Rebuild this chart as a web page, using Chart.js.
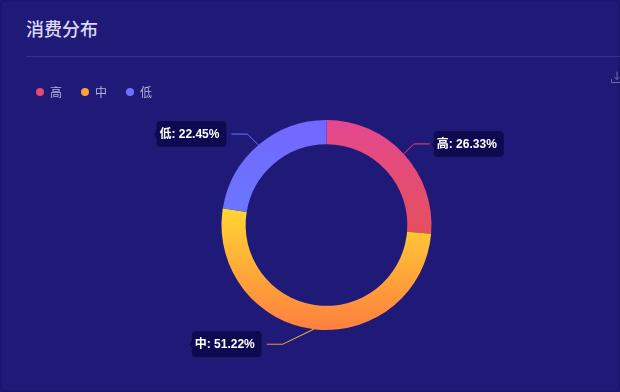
<!DOCTYPE html>
<html>
<head>
<meta charset="utf-8">
<script src="https://cdn.jsdelivr.net/npm/chart.js@4/dist/chart.umd.js"></script>
<style>
  html, body { margin: 0; padding: 0; background: #1f1978; }
  .card {
    position: relative; width: 620px; height: 392px; overflow: hidden;
    background: #1f1978; border-radius: 5px; box-shadow: inset 0 0 0 1.5px #1a156c;
    font-family: "Liberation Sans", "Noto Sans CJK SC", sans-serif;
  }
  .card h3 {
    position: absolute; left: 26px; right: 0; top: 0; height: 56px; margin: 0;
    line-height: 56px; font-size: 18px; font-weight: 500; color: #dcdaf3;
    font-family: "Noto Sans CJK SC", sans-serif;
    border-bottom: 1px solid #35307f;
  }
  .card svg { position: absolute; left: 611px; top: 71px; }
  #wrap { position: absolute; left: 0; top: 57px; width: 636px; height: 335px; }
</style>
</head>
<body>
<div class="card">
  <h3>消费分布</h3>
  <svg width="12" height="13" viewBox="0 0 12 13" fill="none" stroke="#6f6ba8" stroke-width="1">
    <path d="M.5 8v3.5h11.500M6 .5v8M3.500 6l2.500 2.500L8.500 6"/>
  </svg>
  <div id="wrap"><canvas id="chart" width="636" height="335"></canvas></div>
</div>
<script>
// Data
const categories = ['高', '中', '低'];
const shares = [26.33, 51.22, 22.45];

// Slice gradients, top colour to bottom colour
const sliceColors = [
  ['#e5478f', '#e4505c'],
  ['#ffd633', '#ff7f3f'],
  ['#7367ff', '#6b75ff']
];
const legendColors = ['#e24a72', '#ffa235', '#6c70ff'];
// Leader elbow relative to the slice's outer edge
const leaderElbows = [[10, -10], [-31, 15], [-11, -11]];
const leaderRun = 16;
const labelFont = 'bold 12px "Liberation Sans", "Noto Sans CJK SC", sans-serif';

function sliceGradient(ctx, index, arc) {
  const p = arc.getProps(['x', 'y', 'startAngle', 'endAngle', 'outerRadius'], true);
  // vertical extent of the slice
  let top = Infinity, bottom = -Infinity;
  for (let i = 0; i <= 40; i++) {
    const a = p.startAngle + (p.endAngle - p.startAngle) * i / 40;
    const y = p.y + Math.sin(a) * p.outerRadius;
    top = Math.min(top, y);
    bottom = Math.max(bottom, y);
  }
  const g = ctx.createLinearGradient(0, top, 0, bottom);
  g.addColorStop(0, sliceColors[index][0]);
  g.addColorStop(1, sliceColors[index][1]);
  return g;
}

// Leave room under the legend
const legendSpacer = {
  id: 'legendSpacer',
  beforeInit(chart) {
    const fit = chart.legend.fit;
    chart.legend.fit = function () {
      fit.call(this);
      this.height += 12;
    };
  }
};

const callouts = {
  id: 'callouts',
  beforeDatasetDraw(chart) {
    const { ctx } = chart;
    chart.getDatasetMeta(0).data.forEach((arc, i) => {
      arc.options.backgroundColor = sliceGradient(ctx, i, arc);
    });
  },
  afterDatasetsDraw(chart) {
    const { ctx } = chart;
    ctx.save();
    chart.getDatasetMeta(0).data.forEach((arc, i) => {
      const p = arc.getProps(['x', 'y', 'startAngle', 'endAngle', 'outerRadius'], true);
      const mid = (p.startAngle + p.endAngle) / 2;
      const x0 = p.x + Math.cos(mid) * p.outerRadius;
      const y0 = p.y + Math.sin(mid) * p.outerRadius;
      const x1 = x0 + leaderElbows[i][0];
      const y1 = y0 + leaderElbows[i][1];
      const dir = x1 > p.x ? 1 : -1;
      const x2 = x1 + dir * leaderRun;

      const stroke = ctx.createLinearGradient(x0, y0, x2, y1);
      stroke.addColorStop(0, sliceColors[i][0]);
      stroke.addColorStop(1, sliceColors[i][1]);
      ctx.strokeStyle = stroke;
      ctx.lineWidth = 1;
      ctx.beginPath();
      ctx.moveTo(x0, y0);
      ctx.lineTo(x1, y1);
      ctx.lineTo(x2, y1);
      ctx.stroke();

      // label box
      const text = `${categories[i]}: ${shares[i].toFixed(2)}%`;
      const w = 72, h = 28;
      const bx = dir > 0 ? x2 + 3 : x2 - 4 - w;
      const by = y1 - h / 2;
      ctx.fillStyle = '#0d0a52';
      ctx.strokeStyle = '#241f70';
      ctx.beginPath();
      ctx.roundRect(bx + 0.5, by + 0.5, w - 1, h - 1, 4);
      ctx.fill();
      ctx.stroke();

      // small dark notch on the box's left edge
      ctx.strokeStyle = '#06052e';
      ctx.beginPath();
      ctx.moveTo(bx + 2, y1 - 3.5);
      ctx.quadraticCurveTo(bx + 0.5, y1 - 3, bx + 0.5, y1 - 1);
      ctx.lineTo(bx - 0.5, y1);
      ctx.lineTo(bx + 0.5, y1 + 1);
      ctx.quadraticCurveTo(bx + 0.5, y1 + 3, bx + 2, y1 + 3.5);
      ctx.stroke();

      ctx.font = labelFont;
      ctx.fillStyle = '#ffffff';
      ctx.textAlign = 'left';
      ctx.textBaseline = 'middle';
      ctx.fillText(text, bx + 4, y1 + 0.5);
    });
    ctx.restore();
  }
};

new Chart(document.getElementById('chart'), {
  type: 'doughnut',
  data: {
    labels: categories,
    datasets: [{
      data: shares,
      backgroundColor: sliceColors.map(c => c[0]),
      borderWidth: 0
    }]
  },
  options: {
    responsive: false,
    animation: false,
    cutout: '77%',
    layout: { padding: { left: 17, right: 0, top: 10, bottom: 62 } },
    plugins: {
      tooltip: { enabled: false },
      legend: {
        position: 'top',
        align: 'start',
        labels: {
          usePointStyle: true,
          pointStyle: 'circle',
          boxWidth: 8,
          boxHeight: 5.66,
          padding: 19,
          color: '#b4b1dc',
          font: { size: 12, family: '"Noto Sans CJK SC", sans-serif' },
          generateLabels() {
            return categories.map((name, i) => ({
              text: name,
              fillStyle: legendColors[i],
              strokeStyle: legendColors[i],
              lineWidth: 0,
              pointStyle: 'circle',
              fontColor: '#b4b1dc',
              index: i
            }));
          }
        }
      }
    }
  },
  plugins: [legendSpacer, callouts]
});
</script>
</body>
</html>
